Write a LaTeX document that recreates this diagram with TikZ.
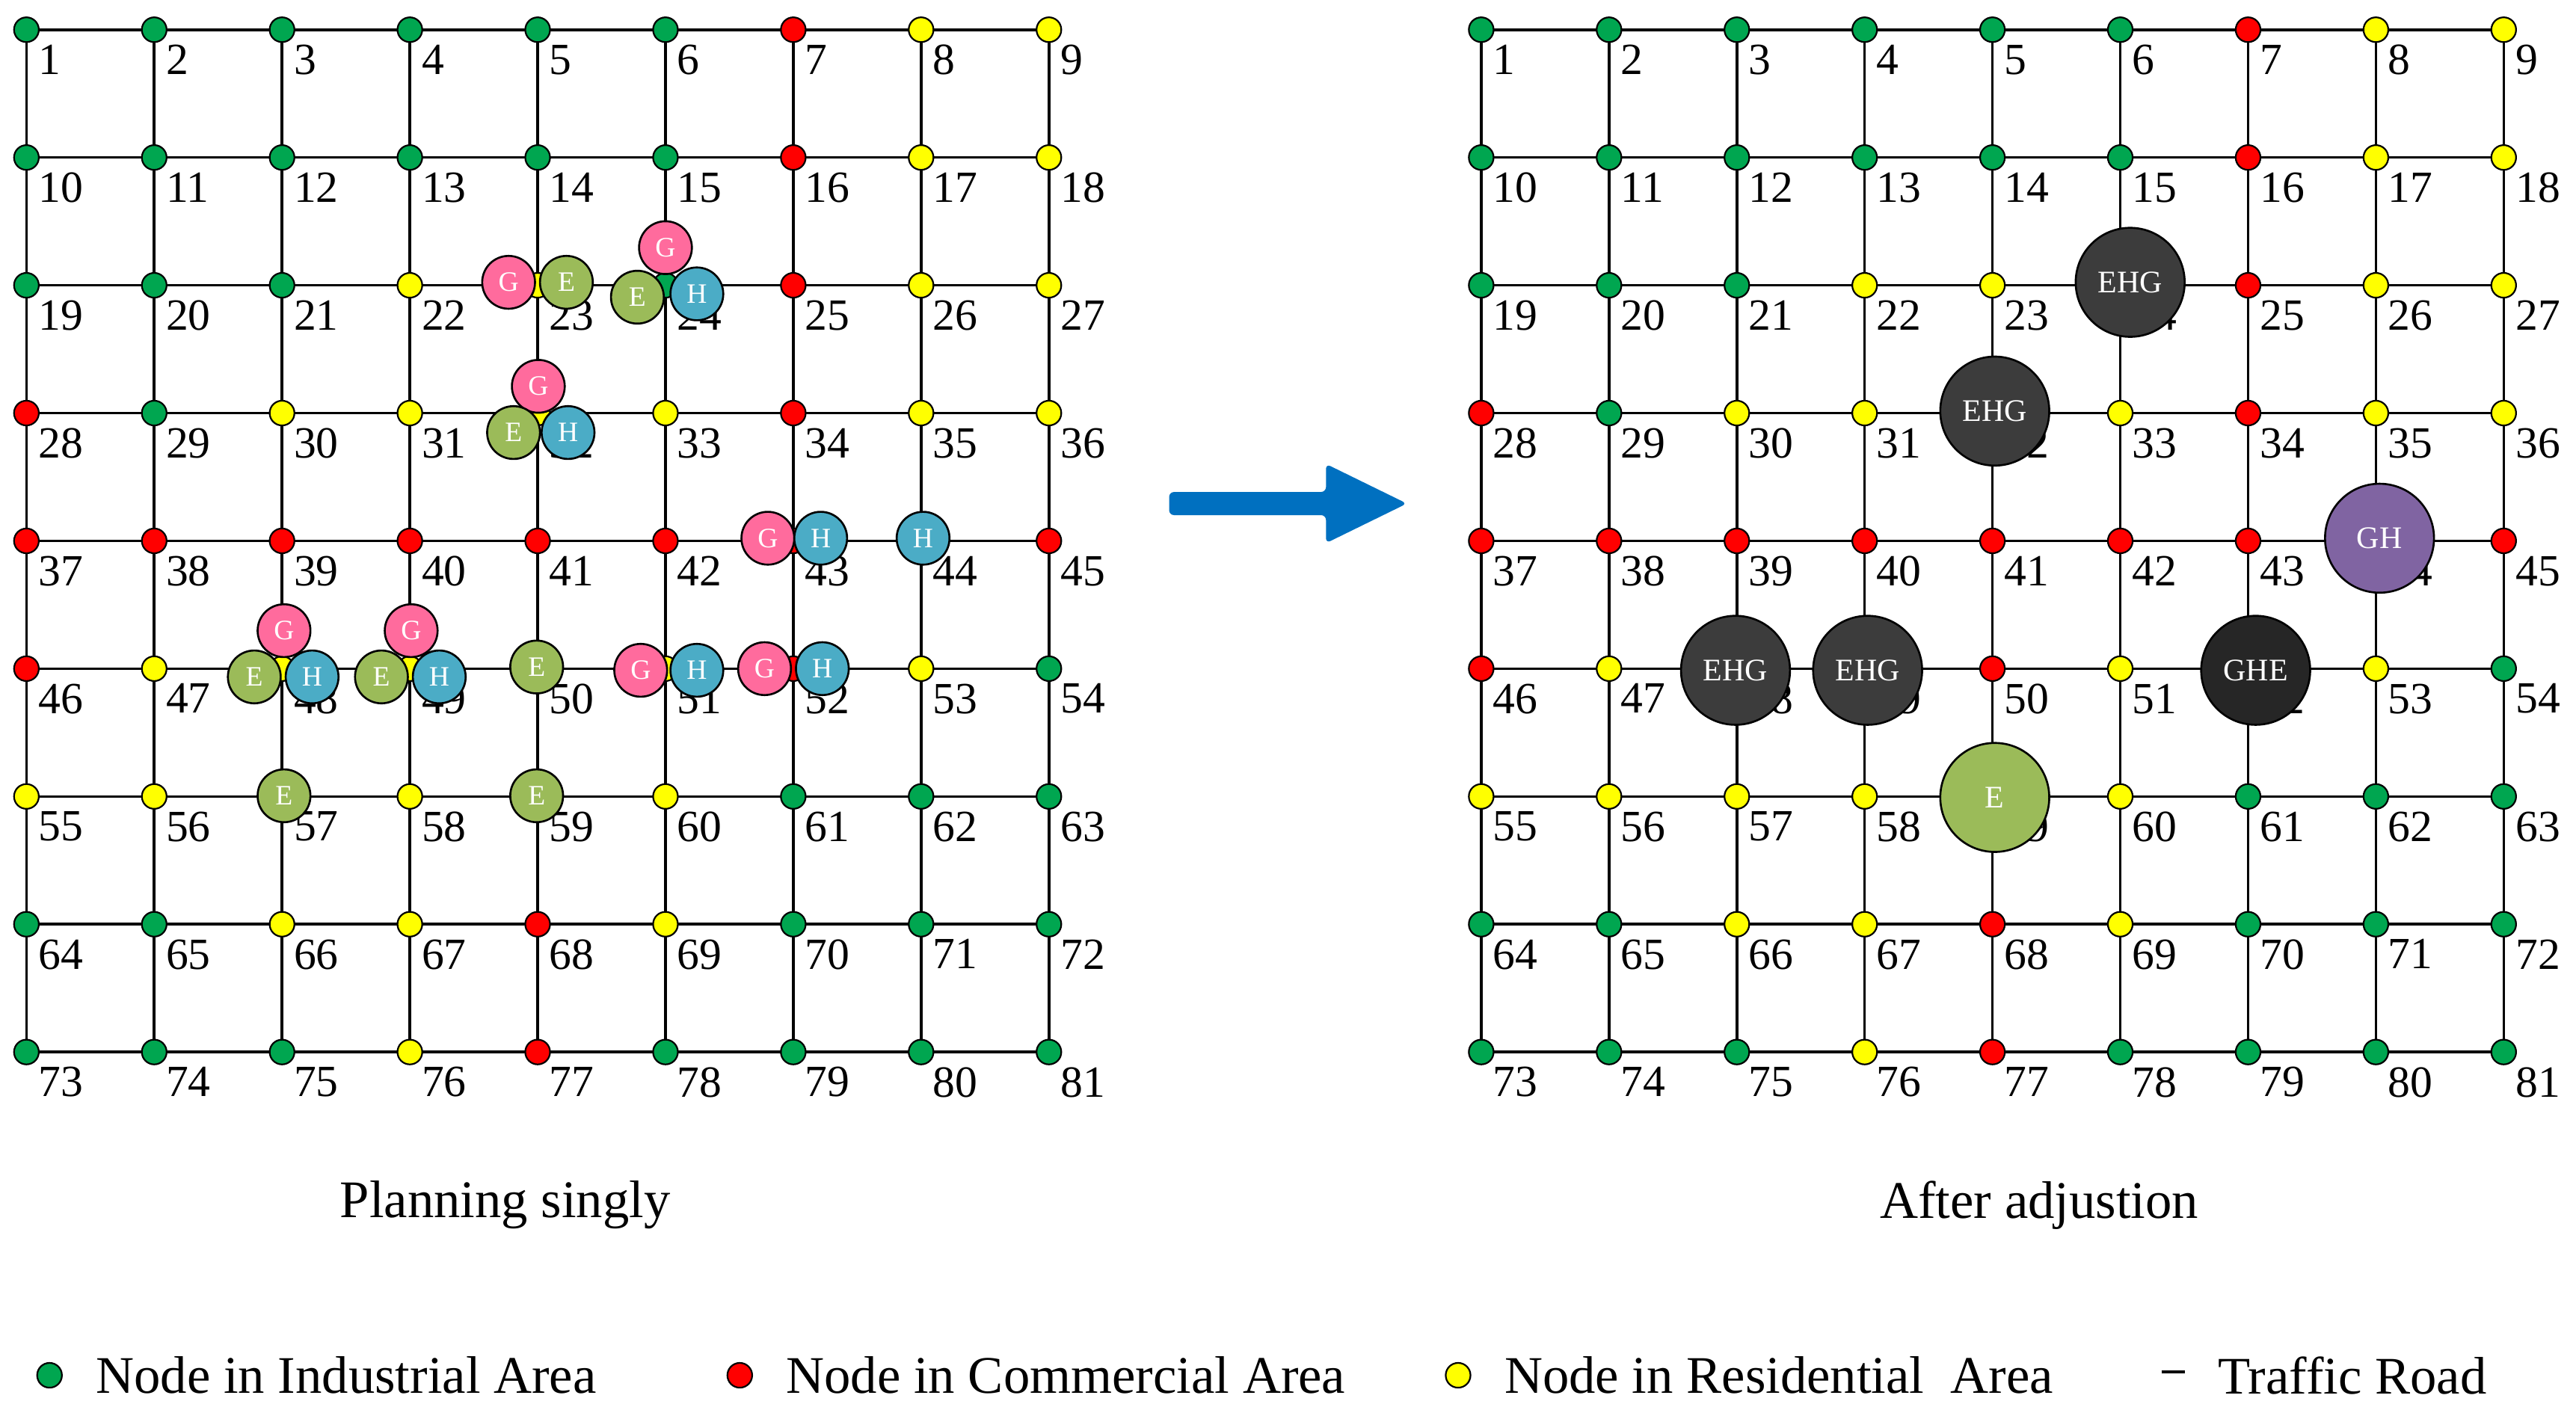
\documentclass[tikz,border=0pt]{standalone}
\usepackage{fontspec}
\setmainfont{Liberation Serif}
\usepackage{tikz}
\usetikzlibrary{calc,positioning}
\definecolor{cG}{HTML}{00A650}
\definecolor{cR}{HTML}{FF0000}
\definecolor{cY}{HTML}{FFFF00}
\definecolor{cPink}{HTML}{FF6B9D}
\definecolor{cTeal}{HTML}{4BACC6}
\definecolor{cOlive}{HTML}{9BBB59}
\definecolor{cPurple}{HTML}{8064A2}
\definecolor{cDark}{HTML}{3C3C3C}
\definecolor{cBlue}{HTML}{0070C0}

\begin{document}
\begin{tikzpicture}[x=1pt,y=-1pt]
  \tikzset{GridNode/.style = {circle, draw = black, line width = 1pt, minimum size = 15, inner sep = 0}};
  \tikzset{NumLabel/.style = {anchor = north west, inner sep = 0, font = \fontsize{27}{28}\selectfont}};
  \tikzset{Station/.style = {circle, draw = black, line width = 1.2pt, minimum size = 32, inner sep = 0, text = white, font = \fontsize{17}{18}\selectfont}};
  \tikzset{BigStation/.style = {circle, draw = black, line width = 1.2pt, minimum size = 66, inner sep = 0, text = white, font = \fontsize{19}{20}\selectfont}};
  \tikzset{RoadStyle/.style = {line width = 1.6pt, black}};
  \useasboundingbox (0,0) rectangle (1560,855.8);

  % both grids
  \foreach \side/\xo in {L/16, R/897} {
    \foreach \c [count=\i from 0] in {G,G,G,G,G,G,R,Y,Y, G,G,G,G,G,G,R,Y,Y, G,G,G,Y,Y,G,R,Y,Y,
        R,G,Y,Y,Y,Y,R,Y,Y, R,R,R,R,R,R,R,Y,R, R,Y,Y,Y,R,Y,R,Y,G,
        Y,Y,Y,Y,Y,Y,G,G,G, G,G,Y,Y,R,Y,G,G,G, G,G,G,Y,R,G,G,G,G} {
      \pgfmathtruncatemacro{\col}{mod(\i,9)}
      \pgfmathtruncatemacro{\row}{div(\i,9)}
      \pgfmathtruncatemacro{\num}{\i+1}
      \coordinate (\side\num) at (\xo+\col*77.4, 18+\row*77.4);
      \node[NumLabel] (\side lab\num) at ($(\side\num)+(7,9)$) {\num};
    }
    \foreach \r in {0,...,8} {
      \foreach \k in {1,...,8} {
        \pgfmathtruncatemacro{\a}{\r*9+\k}
        \pgfmathtruncatemacro{\b}{\a+1}
        \draw[RoadStyle] (\side\a) -- (\side\b);
      }
    }
    \foreach \k in {1,...,72} {
      \pgfmathtruncatemacro{\b}{\k+9}
      \draw[RoadStyle] (\side\k) -- (\side\b);
    }
    \foreach \c [count=\num] in {G,G,G,G,G,G,R,Y,Y, G,G,G,G,G,G,R,Y,Y, G,G,G,Y,Y,G,R,Y,Y,
        R,G,Y,Y,Y,Y,R,Y,Y, R,R,R,R,R,R,R,Y,R, R,Y,Y,Y,R,Y,R,Y,G,
        Y,Y,Y,Y,Y,Y,G,G,G, G,G,Y,Y,R,Y,G,G,G, G,G,G,Y,R,G,G,G,G} {
      \node[GridNode, fill = c\c] (\side dot\num) at (\side\num) {};
    }
  }

  % planning singly
  \foreach \x/\y/\t/\f in {308/171/G/cPink, 343/171/E/cOlive, 403/150/G/cPink, 386/180/E/cOlive, 422/178/H/cTeal,
      326/234/G/cPink, 311/262/E/cOlive, 344/262/H/cTeal,
      465/326/G/cPink, 497/326/H/cTeal, 559/326/H/cTeal,
      172/382/G/cPink, 154/410/E/cOlive, 189/410/H/cTeal,
      249/382/G/cPink, 231/410/E/cOlive, 266/410/H/cTeal,
      325/404/E/cOlive, 388/406/G/cPink, 422/406/H/cTeal, 463/405/G/cPink, 498/405/H/cTeal,
      172/482/E/cOlive, 325/482/E/cOlive}
    \node[Station, fill = \f] at (\x,\y) {\t};

  % after adjustion
  \node[BigStation, fill = cDark] (st24) at (1290,171) {EHG};
  \node[BigStation, fill = cDark] (st32) at (1208,249) {EHG};
  \node[BigStation, fill = cPurple] (st44) at (1441,326) {GH};
  \node[BigStation, fill = cDark] (st48) at (1051,406) {EHG};
  \node[BigStation, fill = cDark] (st49) at (1131,406) {EHG};
  \node[BigStation, fill = black!85] (st52) at (1366,406) {GHE};
  \node[BigStation, fill = cOlive] (st59) at (1208,483) {E};

  % arrow
  \fill[cBlue, rounded corners=3pt] (708,298) -- (803,298) -- (803,281) -- (852,305) -- (803,329) -- (803,312) -- (708,312) -- cycle;

  \node[font = \fontsize{32}{34}\selectfont] (capL) at (306,730) {Planning singly};
  \node[font = \fontsize{32}{34}\selectfont] (capR) at (1235,730) {After adjustion};

  % legend
  \foreach \x/\c/\t in {30/G/Node in Industrial Area, 448/R/Node in Commercial Area, 883/Y/Node in Residential\ \ Area} {
    \node[GridNode, fill = c\c] at (\x,833) {};
    \node[anchor = west, inner sep = 0, font = \fontsize{32}{34}\selectfont] at (\x+28,833) {\t};
  }
  \draw[line width = 1.8pt] (1309,831) -- (1323,831);
  \node[anchor = west, inner sep = 0, font = \fontsize{32}{34}\selectfont] at (1343,833) {Traffic Road};
\end{tikzpicture}
\end{document}
